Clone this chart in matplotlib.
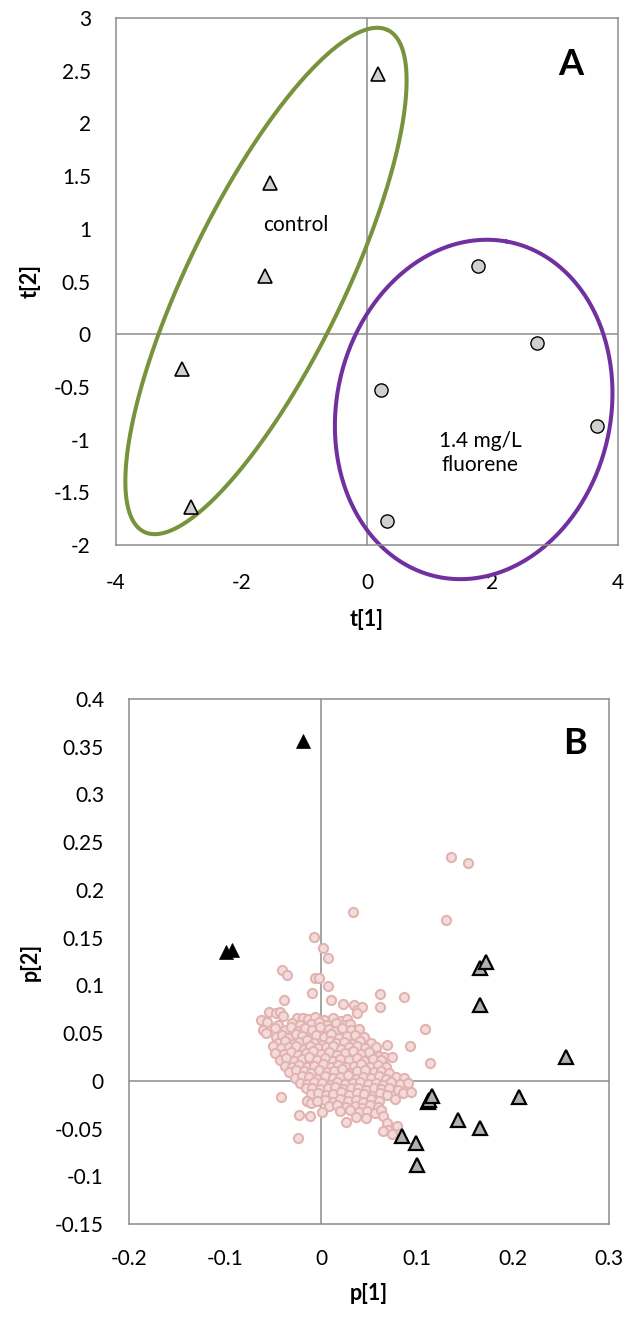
import numpy as np
import matplotlib
matplotlib.use("Agg")
import matplotlib.pyplot as plt

plt.rcParams['font.family'] = ['Lato', 'DejaVu Sans']

# ---------------- Panel A data (scores) ----------------
ctrl_x = [0.18, -1.55, -1.63, -2.95, -2.80]
ctrl_y = [2.47, 1.43, 0.55, -0.33, -1.64]
fl_x = [1.77, 2.71, 0.22, 3.66, 0.32]
fl_y = [0.65, -0.08, -0.53, -0.87, -1.77]
a_xticks = [-4, -2, 0, 2, 4]
a_yticks = [-2, -1.5, -1, -0.5, 0, 0.5, 1, 1.5, 2, 2.5, 3]

# ellipse annotations: centre, half-axis vectors (data units)
green_c = (-1.61, 0.505); green_u = (1.943, 2.380); green_v = (1.117, -0.326)
purple_c = (1.70, -0.714); purple_u = (0.520, 1.594); purple_v = (2.150, -0.227)

# ---------------- Panel B data (loadings) ----------------
black_x = [-0.019, -0.099, -0.093]
black_y = [0.356, 0.135, 0.137]
gray_x = [0.166, 0.172, 0.166, 0.255, 0.206, 0.111, 0.113, 0.116, 0.143, 0.166, 0.084, 0.099, 0.100]
gray_y = [0.118, 0.124, 0.079, 0.025, -0.017, -0.022, -0.020, -0.016, -0.041, -0.049, -0.058, -0.065, -0.088]

pink_x = [
    -0.025, -0.019, -0.014, -0.006, 0.003, 0.012, 0.021, 0.027,
    -0.045, -0.030, -0.022, -0.010, -0.002, 0.006, 0.016, 0.024, 0.030,
    -0.048, -0.038, -0.031, -0.024, -0.017, -0.009, -0.001, 0.008, 0.015, 0.022, 0.031, 0.040,
    -0.047, -0.041, -0.034, -0.026, -0.020, -0.012, -0.005, 0.003, 0.010, 0.019, 0.027, 0.035, 0.045,
    -0.045, -0.037, -0.029, -0.023, -0.015, -0.007, 0.001, 0.009, 0.016, 0.024, 0.033, 0.041, 0.052,
    -0.050, -0.042, -0.033, -0.026, -0.018, -0.011, -0.003, 0.005, 0.013, 0.021, 0.029, 0.038, 0.046, 0.057, 0.069,
    -0.048, -0.039, -0.031, -0.024, -0.016, -0.008, 0.000, 0.008, 0.017, 0.025, 0.033, 0.042, 0.050, 0.060, 0.066,
    -0.043, -0.036, -0.028, -0.020, -0.012, -0.004, 0.004, 0.012, 0.020, 0.029, 0.037, 0.045, 0.054, 0.063, 0.074,
    -0.038, -0.030, -0.023, -0.015, -0.007, 0.002, 0.010, 0.018, 0.026, 0.034, 0.042, 0.051, 0.059, 0.068,
    -0.033, -0.026, -0.018, -0.010, -0.002, 0.006, 0.014, 0.022, 0.030, 0.038, 0.046, 0.055, 0.063, 0.071,
    -0.027, -0.020, -0.012, -0.004, 0.004, 0.012, 0.020, 0.028, 0.036, 0.044, 0.052, 0.060, 0.068, 0.078, 0.086,
    -0.022, -0.015, -0.007, 0.001, 0.009, 0.017, 0.025, 0.033, 0.041, 0.049, 0.057, 0.065, 0.073, 0.082, 0.091,
    -0.016, -0.009, -0.001, 0.007, 0.015, 0.023, 0.031, 0.039, 0.047, 0.055, 0.063, 0.071, 0.080,
    -0.010, -0.003, 0.005, 0.013, 0.021, 0.029, 0.037, 0.045, 0.053, 0.061, 0.069, 0.085, 0.094,
    -0.015, -0.004, 0.004, 0.012, 0.020, 0.028, 0.036, 0.044, 0.052, 0.060, 0.077,
    0.008, 0.017, 0.026, 0.035, 0.043, 0.051, 0.059,
    0.020, 0.030, 0.040, 0.048, 0.056, 0.063,
    0.036, 0.047, 0.065,
    0.069, 0.070, 0.065, 0.079, 0.080, 0.074,
    0.135, 0.153, 0.130, 0.033, -0.007, 0.002, 0.007, -0.041, -0.035, -0.006, -0.002, 0.007,
    -0.009, -0.039, 0.010, 0.061, 0.086, 0.023, 0.034, 0.038, 0.043, 0.038, 0.061, 0.108, 0.093,
    -0.054, -0.047, -0.043, -0.040, -0.062, -0.056, -0.060, -0.057, 0.114, -0.042, -0.023,
    -0.011, -0.024, 0.001, 0.026, -0.015, -0.010, -0.004,
]
pink_y = [
    0.066, 0.066, 0.065, 0.067, 0.064, 0.066, 0.063, 0.065,
    0.059, 0.061, 0.058, 0.060, 0.062, 0.059, 0.061, 0.058, 0.060,
    0.055, 0.053, 0.056, 0.052, 0.055, 0.053, 0.056, 0.054, 0.052, 0.055, 0.053, 0.054,
    0.046, 0.048, 0.045, 0.049, 0.047, 0.044, 0.048, 0.046, 0.049, 0.045, 0.047, 0.048, 0.046,
    0.040, 0.042, 0.039, 0.041, 0.043, 0.040, 0.038, 0.042, 0.040, 0.041, 0.039, 0.042, 0.040,
    0.036, 0.034, 0.035, 0.037, 0.033, 0.036, 0.034, 0.035, 0.037, 0.033, 0.035, 0.036, 0.034, 0.035, 0.038,
    0.029, 0.028, 0.030, 0.027, 0.029, 0.031, 0.028, 0.030, 0.027, 0.029, 0.031, 0.028, 0.030, 0.026, 0.025,
    0.022, 0.024, 0.021, 0.023, 0.025, 0.022, 0.024, 0.021, 0.023, 0.022, 0.024, 0.021, 0.023, 0.022, 0.025,
    0.016, 0.015, 0.017, 0.014, 0.016, 0.018, 0.015, 0.017, 0.014, 0.016, 0.018, 0.015, 0.017, 0.015,
    0.009, 0.011, 0.010, 0.008, 0.011, 0.009, 0.010, 0.012, 0.008, 0.010, 0.011, 0.009, 0.010, 0.008,
    0.003, 0.005, 0.004, 0.002, 0.005, 0.003, 0.004, 0.006, 0.002, 0.004, 0.003, 0.005, 0.002, 0.004, 0.003,
    -0.002, -0.003, -0.001, -0.002, -0.004, -0.001, -0.003, -0.002, -0.001, -0.003, -0.002, -0.004, -0.001, -0.003, -0.002,
    -0.008, -0.007, -0.009, -0.008, -0.006, -0.009, -0.007, -0.008, -0.010, -0.007, -0.009, -0.008, -0.010,
    -0.014, -0.013, -0.015, -0.014, -0.012, -0.015, -0.013, -0.014, -0.016, -0.013, -0.015, -0.013, -0.012,
    -0.021, -0.021, -0.020, -0.022, -0.019, -0.021, -0.020, -0.022, -0.019, -0.021, -0.019,
    -0.026, -0.025, -0.027, -0.026, -0.028, -0.025, -0.027,
    -0.032, -0.031, -0.033, -0.032, -0.034, -0.031,
    -0.038, -0.039, -0.037,
    -0.044, -0.052, -0.053, -0.047, -0.056, -0.056,
    0.234, 0.228, 0.169, 0.177, 0.151, 0.139, 0.129, 0.116, 0.111, 0.108, 0.108, 0.099,
    0.092, 0.085, 0.085, 0.091, 0.088, 0.081, 0.079, 0.074, 0.077, 0.071, 0.077, 0.054, 0.036,
    0.072, 0.071, 0.072, 0.068, 0.064, 0.062, 0.053, 0.050, 0.019, -0.017, -0.036,
    -0.037, -0.060, -0.033, -0.043, -0.021, -0.023, -0.021,
]
b_xticks = [-0.2, -0.1, 0, 0.1, 0.2, 0.3]
b_yticks = [-0.15, -0.1, -0.05, 0, 0.05, 0.1, 0.15, 0.2, 0.25, 0.3, 0.35, 0.4]

AXIS_GRAY = '#8C8C8C'
TICK_FS = 15
LABEL_FS = 15.5

W, H = 628, 1317
fig = plt.figure(figsize=(W / 100, H / 100), dpi=100)

axA = fig.add_axes([116 / W, 1 - 545 / H, 502 / W, 527 / H])
axB = fig.add_axes([129 / W, 1 - 1224 / H, 480 / W, 525 / H])


def fmt(v):
    return '%g' % v


def style(ax):
    for sp in ax.spines.values():
        sp.set_color(AXIS_GRAY)
        sp.set_linewidth(1.1)
    ax.tick_params(length=0, labelsize=TICK_FS, colors='black')
    ax.axhline(0, color=AXIS_GRAY, lw=1.1, zorder=1)
    ax.axvline(0, color=AXIS_GRAY, lw=1.1, zorder=1)


# ---------- Panel A ----------
style(axA)
axA.set_xlim(-4, 4)
axA.set_ylim(-2, 3)
axA.set_xticks(a_xticks)
axA.set_xticklabels([fmt(v) for v in a_xticks])
axA.set_yticks(a_yticks)
axA.set_yticklabels([fmt(v) for v in a_yticks])
axA.tick_params(axis='x', pad=20)
axA.tick_params(axis='y', pad=18)

t = np.linspace(0, 2 * np.pi, 400)
for c, u, v, col in [(green_c, green_u, green_v, '#77933C'),
                     (purple_c, purple_u, purple_v, '#7030A0')]:
    ex = c[0] + u[0] * np.cos(t) + v[0] * np.sin(t)
    ey = c[1] + u[1] * np.cos(t) + v[1] * np.sin(t)
    axA.plot(ex, ey, color=col, lw=2.9, zorder=2, solid_capstyle='round',
             clip_on=False)

axA.plot(ctrl_x, ctrl_y, linestyle='none', marker='^', ms=9.5, mfc='#D0D0D0',
         mec='black', mew=1.2, zorder=3)
axA.plot(fl_x, fl_y, linestyle='none', marker='o', ms=9.5, mfc='#D0D0D0',
         mec='black', mew=1.0, zorder=3)

axA.text(-1.13, 1.04, 'control', ha='center', va='center', fontsize=TICK_FS)
axA.text(1.80, -1.13, '1.4 mg/L\nfluorene', ha='center', va='center',
         fontsize=TICK_FS, linespacing=1.25)
axA.text(0.906, 0.911, 'A', transform=axA.transAxes, ha='center', va='center',
         fontsize=26, fontweight='bold')
axA.set_xlabel('t[1]', fontsize=LABEL_FS, fontweight='bold', labelpad=12)
axA.set_ylabel('t[2]', fontsize=LABEL_FS, fontweight='bold', labelpad=10)

# ---------- Panel B ----------
style(axB)
axB.set_xlim(-0.2, 0.3)
axB.set_ylim(-0.15, 0.4)
axB.set_xticks(b_xticks)
axB.set_xticklabels([fmt(v) for v in b_xticks])
axB.set_yticks(b_yticks)
axB.set_yticklabels([fmt(v) for v in b_yticks])
axB.tick_params(axis='x', pad=18)
axB.tick_params(axis='y', pad=18)

axB.plot(pink_x, pink_y, linestyle='none', marker='o', ms=6.6, mfc='#F2DCDB',
         mec='#E3B3B2', mew=1.5, zorder=2)
axB.plot(gray_x, gray_y, linestyle='none', marker='^', ms=10, mfc='#B0B0B0',
         mec='black', mew=1.6, zorder=3)
axB.plot(black_x, black_y, linestyle='none', marker='^', ms=10, mfc='black',
         mec='black', mew=0.5, zorder=3)

axB.text(0.929, 0.916, 'B', transform=axB.transAxes, ha='center', va='center',
         fontsize=26, fontweight='bold')
axB.set_xlabel('p[1]', fontsize=LABEL_FS, fontweight='bold', labelpad=10)
axB.set_ylabel('p[2]', fontsize=LABEL_FS, fontweight='bold', labelpad=10)

fig.savefig('out.png', dpi=100)
